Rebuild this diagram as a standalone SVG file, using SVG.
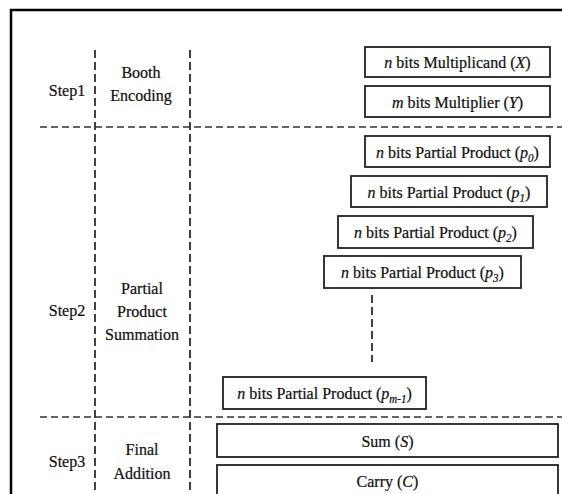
<svg xmlns="http://www.w3.org/2000/svg" width="562" height="494" viewBox="0 0 562 494">
<style>
text{font-family:"Liberation Serif","Times New Roman",serif;font-size:17.5px;fill:#111;stroke:#111;stroke-width:0.25;transform-box:fill-box;transform-origin:center;transform:scaleX(0.915)}
.c{text-anchor:middle}
.i{font-style:italic}
.s{font-size:12px;font-style:italic}
.box{fill:#fff;stroke:#222;stroke-width:1.8}
.dh{stroke:#333;stroke-width:1.7;stroke-dasharray:7 4;fill:none}
.dv{stroke:#222;stroke-width:1.7;stroke-dasharray:8 4;fill:none}
</style>
<rect width="562" height="494" fill="#fff"/>
<g id="frame"><path d="M11,494 V10 H562" fill="none" stroke="#000" stroke-width="2.5"/></g>
<g id="connectors">
<path class="dv" d="M95,50 V494"/>
<path class="dv" d="M190,50 V494"/>
<path class="dh" d="M40,127 H562"/>
<path class="dh" d="M40,417 H562"/>
<path class="dv" d="M372,295 V362"/>
</g>
<g id="labels">
<text class="c" x="67" y="96">Step1</text>
<text class="c" x="141" y="78">Booth</text>
<text class="c" x="141" y="101">Encoding</text>
<text class="c" x="67" y="316">Step2</text>
<text class="c" x="142" y="294">Partial</text>
<text class="c" x="142" y="317">Product</text>
<text class="c" x="142" y="340">Summation</text>
<text class="c" x="67" y="467">Step3</text>
<text class="c" x="142" y="455">Final</text>
<text class="c" x="142" y="479">Addition</text>
</g>
<g id="multiplicand"><rect class="box" x="365" y="47" width="185" height="30"/><text class="c" x="457.5" y="68"><tspan class="i">n</tspan> bits Multiplicand (<tspan class="i">X</tspan>)</text></g>
<g id="multiplier"><rect class="box" x="365" y="86" width="185" height="31"/><text class="c" x="457.5" y="108"><tspan class="i">m</tspan> bits Multiplier (<tspan class="i">Y</tspan>)</text></g>
<g id="p0"><rect class="box" x="365" y="136" width="185" height="31"/><text class="c" x="457.5" y="158"><tspan class="i">n</tspan> bits Partial Product (<tspan class="i">p</tspan><tspan class="s" dy="4">0</tspan><tspan dy="-4">)</tspan></text></g>
<g id="p1"><rect class="box" x="351" y="176" width="196" height="31"/><text class="c" x="449" y="198"><tspan class="i">n</tspan> bits Partial Product (<tspan class="i">p</tspan><tspan class="s" dy="4">1</tspan><tspan dy="-4">)</tspan></text></g>
<g id="p2"><rect class="box" x="338" y="216" width="195" height="32"/><text class="c" x="435.5" y="238"><tspan class="i">n</tspan> bits Partial Product (<tspan class="i">p</tspan><tspan class="s" dy="4">2</tspan><tspan dy="-4">)</tspan></text></g>
<g id="p3"><rect class="box" x="324" y="256" width="197" height="32"/><text class="c" x="422.5" y="278"><tspan class="i">n</tspan> bits Partial Product (<tspan class="i">p</tspan><tspan class="s" dy="4">3</tspan><tspan dy="-4">)</tspan></text></g>
<g id="pm1"><rect class="box" x="223" y="377" width="203" height="32"/><text class="c" x="324.5" y="399"><tspan class="i">n</tspan> bits Partial Product (<tspan class="i">p</tspan><tspan class="s" dy="4">m-1</tspan><tspan dy="-4">)</tspan></text></g>
<g id="sum"><rect class="box" x="217" y="424" width="341" height="33"/><text class="c" x="387.5" y="447">Sum (<tspan class="i">S</tspan>)</text></g>
<g id="carry"><rect class="box" x="217" y="465" width="341" height="40"/><text class="c" x="387.5" y="487">Carry (<tspan class="i">C</tspan>)</text></g>
</svg>
